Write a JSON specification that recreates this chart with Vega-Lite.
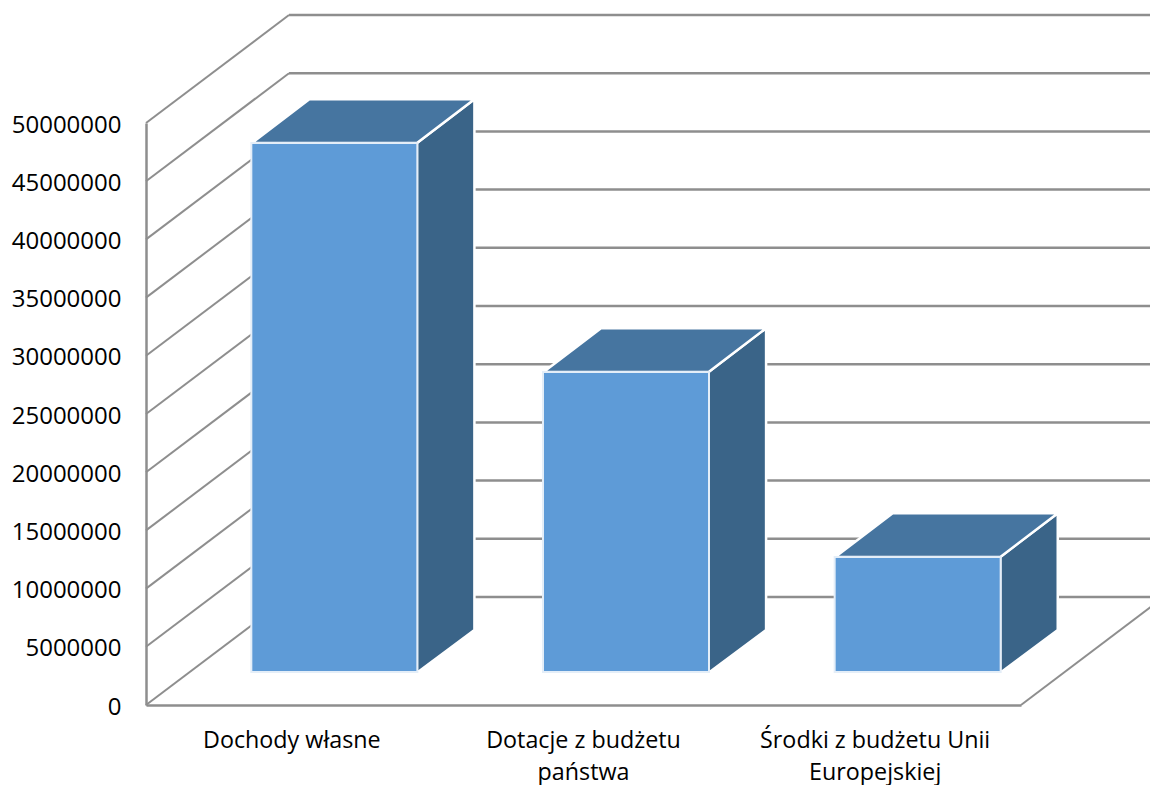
{
  "$schema": "https://vega.github.io/schema/vega-lite/v6.json",
  "width": 875,
  "height": 582,
  "autosize": {"type": "none"},
  "padding": {"left": 146, "top": 123, "right": 129, "bottom": 80},
  "background": "white",
  "config": {"view": {"stroke": null}, "font": "Open Sans"},
  "resolve": {"scale": {"x": "independent"}, "axis": {"x": "independent"}},
  "datasets": {
    "bars": [
      {"category": "Dochody własne", "value": 45450000},
      {"category": "Dotacje z budżetu państwa", "value": 25770000},
      {"category": "Środki z budżetu Unii Europejskiej", "value": 9880000}
    ],
    "ticks": [
      {"tick": 0}, {"tick": 5000000}, {"tick": 10000000}, {"tick": 15000000}, {"tick": 20000000}, {"tick": 25000000},
      {"tick": 30000000}, {"tick": 35000000}, {"tick": 40000000}, {"tick": 45000000}, {"tick": 50000000}
    ]
  },
  "layer": [
    {
      "data": {"name": "ticks"},
      "mark": {"type": "rule", "color": "#8e8e8e", "strokeWidth": 2, "x2Offset": 143, "y2Offset": -108},
      "encoding": {
        "x": {"datum": 0, "type": "quantitative", "scale": {"domain": [0, 3], "nice": false, "zero": false}, "axis": null},
        "x2": {"datum": 0},
        "y": {
          "field": "tick", "type": "quantitative",
          "scale": {"domain": [0, 50000000], "nice": false},
          "title": null,
          "axis": {
            "values": [0, 5000000, 10000000, 15000000, 20000000, 25000000, 30000000, 35000000, 40000000, 45000000, 50000000],
            "format": "d", "grid": false, "ticks": false, "domain": true, "domainColor": "#8e8e8e", "domainWidth": 2.5, "title": null,
            "labelFont": "Open Sans", "labelFontSize": 24, "labelColor": "#000000", "labelPadding": 25, "labelOffset": 2
          }
        },
        "y2": {"field": "tick"}
      }
    },
    {
      "data": {"name": "ticks"},
      "transform": [{"filter": "datum.tick === 0"}],
      "mark": {"type": "rule", "color": "#8e8e8e", "strokeWidth": 2, "x2Offset": 143, "y2Offset": -108},
      "encoding": {
        "x": {"datum": 3, "type": "quantitative", "scale": {"domain": [0, 3], "nice": false, "zero": false}, "axis": null},
        "x2": {"datum": 3},
        "y": {"field": "tick", "type": "quantitative", "title": null},
        "y2": {"field": "tick"}
      }
    },
    {
      "data": {"name": "ticks"},
      "mark": {"type": "rule", "color": "#8e8e8e", "strokeWidth": 2.5, "xOffset": 143, "x2Offset": 143, "yOffset": -108},
      "encoding": {
        "x": {"datum": 0, "type": "quantitative", "scale": {"domain": [0, 3], "nice": false, "zero": false}, "axis": null},
        "x2": {"datum": 3},
        "y": {"field": "tick", "type": "quantitative", "title": null}
      }
    },
    {
      "data": {"name": "bars"},
      "transform": [
        {"window": [{"op": "row_number", "as": "i"}]},
        {"calculate": "datum.i - 1 + 0.929", "as": "near"},
        {"calculate": "datum.i - 1 + 0.929 + 0.197", "as": "far"},
        {"fold": ["near", "far"], "as": ["edge", "px"]},
        {"calculate": "datum.edge === 'near' ? 2770000 : 6440000", "as": "base"},
        {"calculate": "datum.value + (datum.edge === 'near' ? 2835000 : 6600000)", "as": "upper"}
      ],
      "mark": {"type": "area", "color": "#3A6488", "stroke": "#ffffff", "strokeWidth": 2.5, "interpolate": "linear"},
      "encoding": {
        "x": {"field": "px", "type": "quantitative", "scale": {"domain": [0, 3], "nice": false, "zero": false}, "axis": null},
        "y": {"field": "upper", "type": "quantitative", "title": null},
        "y2": {"field": "base"},
        "detail": {"field": "category"}
      }
    },
    {
      "data": {"name": "bars"},
      "transform": [
        {"window": [{"op": "row_number", "as": "i"}]},
        {"calculate": "0", "as": "near"},
        {"calculate": "0.197", "as": "far"},
        {"fold": ["near", "far"], "as": ["edge", "shift"]},
        {"calculate": "datum.i - 1 + 0.363 + datum.shift", "as": "leftx"},
        {"calculate": "datum.i - 1 + 0.929 + datum.shift", "as": "rightx"},
        {"calculate": "datum.value + (datum.edge === 'near' ? 2835000 : 6600000)", "as": "upper"}
      ],
      "mark": {"type": "area", "orient": "horizontal", "color": "#4675A0", "stroke": "#ffffff", "strokeWidth": 2.5, "interpolate": "linear"},
      "encoding": {
        "y": {"field": "upper", "type": "quantitative", "title": null},
        "x": {"field": "leftx", "type": "quantitative", "scale": {"domain": [0, 3], "nice": false, "zero": false}, "axis": null},
        "x2": {"field": "rightx"},
        "detail": {"field": "category"}
      }
    },
    {
      "data": {"name": "bars"},
      "mark": {"type": "bar", "width": 166, "color": "#5E9BD7", "stroke": "#e4eef8", "strokeWidth": 2, "xOffset": 42.5, "yOffset": -33, "y2Offset": -32},
      "encoding": {
        "x": {
          "field": "category", "type": "nominal", "sort": null,
          "scale": {"paddingInner": 0, "paddingOuter": 0},
          "title": null,
          "axis": {
            "orient": "bottom", "ticks": false, "domain": true, "domainColor": "#8e8e8e", "domainWidth": 2.5,
            "labelAngle": 0, "labelFont": "Open Sans", "labelFontSize": 23.3, "labelColor": "#000000", "labelPadding": 24, "labelLineHeight": 32, "labelLimit": 400, "labelBaseline": "top",
            "labelExpr": "datum.value === 'Dotacje z budżetu państwa' ? ['Dotacje z budżetu', 'państwa'] : datum.value === 'Środki z budżetu Unii Europejskiej' ? ['Środki z budżetu Unii', 'Europejskiej'] : datum.value"
          }
        },
        "y": {"field": "value", "type": "quantitative", "title": null}
      }
    }
  ]
}
